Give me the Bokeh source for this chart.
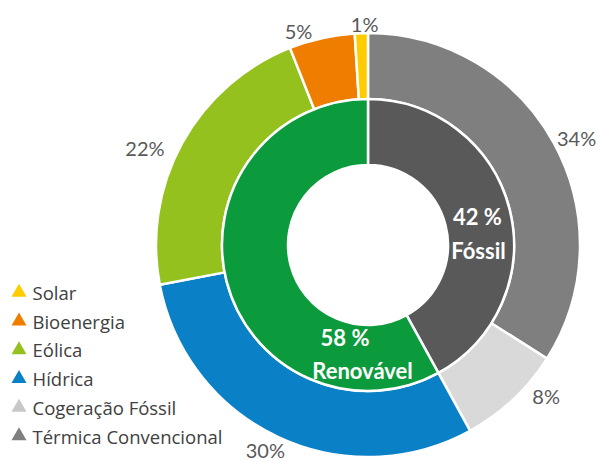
import numpy as np
from bokeh.plotting import figure
from bokeh.models import Range1d
from bokeh.core.properties import value
from bokeh.embed import file_html
from bokeh.resources import INLINE

# ---- data ----
outer_names = ["Térmica Convencional", "Cogeração Fóssil", "Hídrica", "Eólica", "Bioenergia", "Solar"]
outer_values = [34, 8, 30, 22, 5, 1]
outer_colors = ["#7f7f7f", "#d9d9d9", "#0a80c6", "#95c11f", "#ef7d00", "#ffcc00"]

inner_names = ["Fóssil", "Renovável"]
inner_values = [42, 58]
inner_colors = ["#595959", "#0b9a3c"]

legend_names = ["Solar", "Bioenergia", "Eólica", "Hídrica", "Cogeração Fóssil", "Térmica Convencional"]
legend_colors = ["#ffcc00", "#ef7d00", "#95c11f", "#0a80c6", "#c8c8c8", "#7f7f7f"]

# ---- layout ----
W, H = 599, 461
def X(px):
    return px
def Y(py):
    return H - py

CX, CY = X(367.5), Y(244.5)
R_OUT, R_MID, R_IN = 212, 146, 80

p = figure(width=W, height=H, output_backend="svg", toolbar_location=None,
           x_range=Range1d(0, W), y_range=Range1d(0, H), min_border=0)
p.axis.visible = False
p.grid.visible = False
p.outline_line_color = None
p.background_fill_color = "white"


def angles(vals):
    tot = float(sum(vals))
    cum = np.concatenate([[0], np.cumsum(vals)]) / tot
    start = np.pi / 2 - 2 * np.pi * cum[:-1]
    end = np.pi / 2 - 2 * np.pi * cum[1:]
    mid = (start + end) / 2
    return start, end, mid

os_, oe, om = angles(outer_values)
is_, ie, im = angles(inner_values)

p.annular_wedge(x=CX, y=CY, inner_radius=R_MID, outer_radius=R_OUT,
                start_angle=os_, end_angle=oe, direction="clock",
                fill_color=outer_colors, line_color="white", line_width=2.5)
p.annular_wedge(x=CX, y=CY, inner_radius=R_IN, outer_radius=R_MID,
                start_angle=is_, end_angle=ie, direction="clock",
                fill_color=inner_colors, line_color="white", line_width=2.5)

# outer percentage labels (radial placement + small nudges, page pixels)
nudge_outer = [(3.5, 5.7), (18, -20), (-3, -7), (-18, 16), (-18.5, 14), (4, 13)]
rl = R_OUT + 22
ox = [CX + rl * np.cos(a) + n[0] for a, n in zip(om, nudge_outer)]
oy = [CY + rl * np.sin(a) - n[1] for a, n in zip(om, nudge_outer)]
p.text(x=ox, y=oy, text=[f"{v}%" for v in outer_values],
       text_font=value("Lato"), text_font_size="20px", text_color="#595959",
       text_align="center", text_baseline="middle")

# inner labels
ri = (R_IN + R_MID) / 2
nudge_inner1 = [(0, 0), (86.5, 64.5)]
nudge_inner2 = [(1, 34), (104, 97)]
ix1 = [CX + ri * np.cos(a) + n[0] for a, n in zip(im, nudge_inner1)]
iy1 = [CY + ri * np.sin(a) - n[1] for a, n in zip(im, nudge_inner1)]
ix2 = [CX + ri * np.cos(a) + n[0] for a, n in zip(im, nudge_inner2)]
iy2 = [CY + ri * np.sin(a) - n[1] for a, n in zip(im, nudge_inner2)]
p.text(x=ix1, y=iy1, text=[f"{v} %" for v in inner_values],
       text_font=value("Lato"), text_font_size="22px", text_font_style="bold",
       text_color="white", text_align="center", text_baseline="middle")
p.text(x=ix2, y=iy2, text=inner_names,
       text_font=value("Lato"), text_font_size="22px", text_font_style="bold",
       text_color="white", text_align="center", text_baseline="middle")

# legend
ly = [Y(292 + i * 28.7) for i in range(len(legend_names))]
p.scatter(x=[X(18.5)] * len(legend_names), y=ly, marker="triangle", size=15,
          fill_color=legend_colors, line_color=None)
p.text(x=[X(32)] * len(legend_names), y=ly, text=legend_names,
       text_font=value("Open Sans"), text_font_size="18.5px", text_color="#404040",
       text_align="left", text_baseline="middle")

open("out.html", "w").write(file_html(p, INLINE))
